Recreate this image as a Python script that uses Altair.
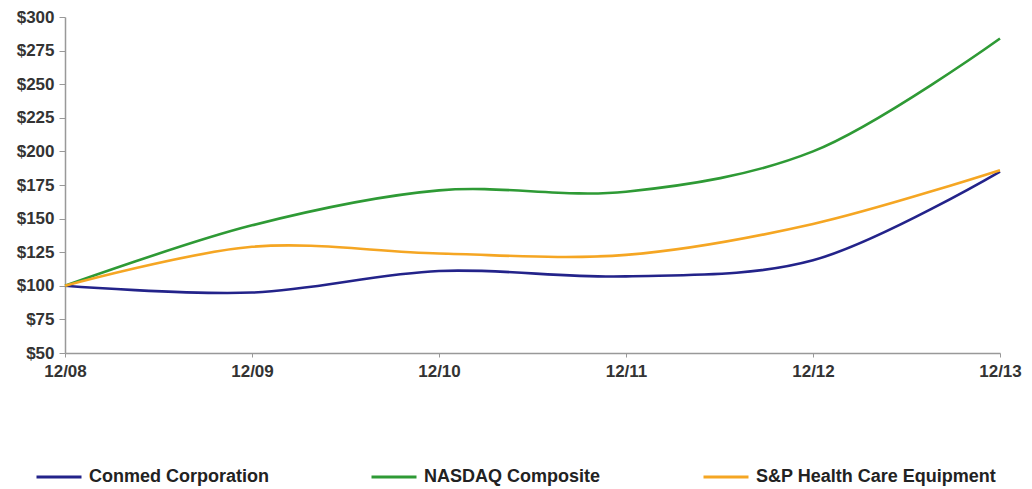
import altair as alt
import pandas as pd

periods = ["12/08", "12/09", "12/10", "12/11", "12/12", "12/13"]
conmed = [100, 95, 111, 107, 119, 185]
nasdaq = [100, 145, 171, 170, 200, 284]
sp_hce = [100, 129, 124, 123, 146, 186]
series_names = ["Conmed Corporation", "NASDAQ Composite", "S&P Health Care Equipment"]
series_colors = ["#23238A", "#2E9A35", "#F5A623"]

rows = []
for name, vals in zip(series_names, [conmed, nasdaq, sp_hce]):
    for p, v in zip(periods, vals):
        rows.append({"period": p, "value": v, "series": name})
df = pd.DataFrame(rows)

font = "Liberation Sans"

chart = alt.Chart(df).mark_line(interpolate="catmull-rom", strokeWidth=2.6).encode(
    x=alt.X("period:N", sort=periods, title=None,
            scale=alt.Scale(type="point", padding=0),
            axis=alt.Axis(labelAngle=0, labelFont=font, labelFontWeight="bold",
                          labelFontSize=17, labelColor="#333333", labelPadding=6,
                          tickSize=4, tickColor="#999999", domainColor="#999999",
                          domainWidth=1.5, grid=False)),
    y=alt.Y("value:Q", title=None,
            scale=alt.Scale(domain=[50, 300], nice=False),
            axis=alt.Axis(values=list(range(50, 301, 25)), format="$,.0f",
                          labelFont=font, labelFontWeight="bold", labelFontSize=17,
                          labelColor="#333333", labelPadding=5, tickSize=6,
                          tickColor="#999999", domainColor="#999999", domainWidth=1.5,
                          grid=False)),
    color=alt.Color("series:N", sort=series_names,
                    scale=alt.Scale(domain=series_names, range=series_colors),
                    legend=alt.Legend(title=None, orient="none", direction="horizontal",
                                      legendX=-30, legendY=436,
                                      symbolType="stroke", symbolSize=2025,
                                      symbolStrokeWidth=3, columnPadding=96,
                                      labelFont=font, labelFontWeight="bold",
                                      labelFontSize=18, labelColor="#222222",
                                      labelOffset=6, labelLimit=400)),
).properties(
    width=935, height=336,
    padding={"left": 57, "top": 9, "right": 24, "bottom": 136},
    autosize=alt.AutoSizeParams(type="none"),
).configure_view(stroke=None)

chart.save("out.html", embed_options={"renderer": "svg", "actions": False})
